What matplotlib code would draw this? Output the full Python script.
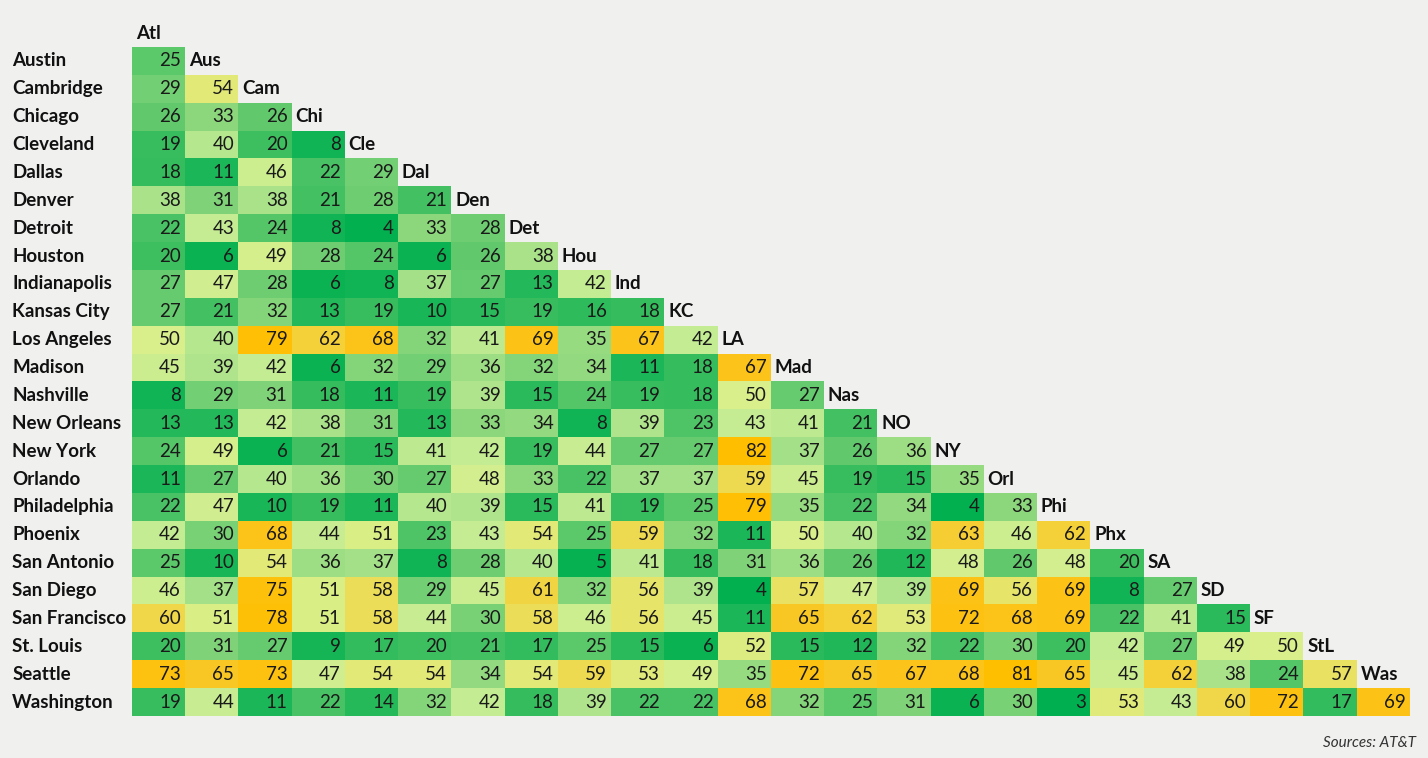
import numpy as np
import matplotlib
matplotlib.use("Agg")
import matplotlib.pyplot as plt
from matplotlib.colors import LinearSegmentedColormap, Normalize

# ciudades (filas) y abreviaturas (columnas)
cities = ["Austin", "Cambridge", "Chicago", "Cleveland", "Dallas", "Denver", "Detroit",
          "Houston", "Indianapolis", "Kansas City", "Los Angeles", "Madison", "Nashville",
          "New Orleans", "New York", "Orlando", "Philadelphia", "Phoenix", "San Antonio",
          "San Diego", "San Francisco", "St. Louis", "Seattle", "Washington"]
abbrevs = ["Atl", "Aus", "Cam", "Chi", "Cle", "Dal", "Den", "Det", "Hou", "Ind", "KC", "LA",
           "Mad", "Nas", "NO", "NY", "Orl", "Phi", "Phx", "SA", "SD", "SF", "StL", "Was"]

# valores por fila (triangulo inferior)
austin = [25]
cambridge = [29, 54]
chicago = [26, 33, 26]
cleveland = [19, 40, 20, 8]
dallas = [18, 11, 46, 22, 29]
denver = [38, 31, 38, 21, 28, 21]
detroit = [22, 43, 24, 8, 4, 33, 28]
houston = [20, 6, 49, 28, 24, 6, 26, 38]
indianapolis = [27, 47, 28, 6, 8, 37, 27, 13, 42]
kansas_city = [27, 21, 32, 13, 19, 10, 15, 19, 16, 18]
los_angeles = [50, 40, 79, 62, 68, 32, 41, 69, 35, 67, 42]
madison = [45, 39, 42, 6, 32, 29, 36, 32, 34, 11, 18, 67]
nashville = [8, 29, 31, 18, 11, 19, 39, 15, 24, 19, 18, 50, 27]
new_orleans = [13, 13, 42, 38, 31, 13, 33, 34, 8, 39, 23, 43, 41, 21]
new_york = [24, 49, 6, 21, 15, 41, 42, 19, 44, 27, 27, 82, 37, 26, 36]
orlando = [11, 27, 40, 36, 30, 27, 48, 33, 22, 37, 37, 59, 45, 19, 15, 35]
philadelphia = [22, 47, 10, 19, 11, 40, 39, 15, 41, 19, 25, 79, 35, 22, 34, 4, 33]
phoenix = [42, 30, 68, 44, 51, 23, 43, 54, 25, 59, 32, 11, 50, 40, 32, 63, 46, 62]
san_antonio = [25, 10, 54, 36, 37, 8, 28, 40, 5, 41, 18, 31, 36, 26, 12, 48, 26, 48, 20]
san_diego = [46, 37, 75, 51, 58, 29, 45, 61, 32, 56, 39, 4, 57, 47, 39, 69, 56, 69, 8, 27]
san_francisco = [60, 51, 78, 51, 58, 44, 30, 58, 46, 56, 45, 11, 65, 62, 53, 72, 68, 69, 22, 41, 15]
st_louis = [20, 31, 27, 9, 17, 20, 21, 17, 25, 15, 6, 52, 15, 12, 32, 22, 30, 20, 42, 27, 49, 50]
seattle = [73, 65, 73, 47, 54, 54, 34, 54, 59, 53, 49, 35, 72, 65, 67, 68, 81, 65, 45, 62, 38, 24, 57]
washington = [19, 44, 11, 22, 14, 32, 42, 18, 39, 22, 22, 68, 32, 25, 31, 6, 30, 3, 53, 43, 60, 72, 17, 69]

filas = [austin, cambridge, chicago, cleveland, dallas, denver, detroit, houston,
         indianapolis, kansas_city, los_angeles, madison, nashville, new_orleans, new_york,
         orlando, philadelphia, phoenix, san_antonio, san_diego, san_francisco, st_louis,
         seattle, washington]

n = len(cities)
matriz = np.full((n, n), np.nan)
for i, fila in enumerate(filas):
    matriz[i, :len(fila)] = fila

# escala de color verde -> amarillo -> naranja
vmin, vmax = np.nanmin(matriz), np.nanmax(matriz)
anclas = [(3, "#00b050"), (20, "#3dbf60"), (32, "#86d57a"), (42, "#c3ec94"),
          (50, "#d8f08c"), (55, "#e6e872"), (60, "#f0d84a"), (66, "#fcc41c"), (82, "#ffbf00")]
cmap = LinearSegmentedColormap.from_list(
    "verde_naranja", [((v - vmin) / (vmax - vmin), c) for v, c in anclas])

fondo = "#f0f0ef"
fig = plt.figure(figsize=(14.28, 7.58), dpi=100, facecolor=fondo)
ax = fig.add_axes([132 / 1428, 1 - 716 / 758, 1278 / 1428, 669 / 758])
ax.set_facecolor(fondo)
ax.imshow(np.ma.masked_invalid(matriz), cmap=cmap, norm=Normalize(vmin, vmax),
          aspect="auto", interpolation="nearest")
ax.set_xlim(-0.5, n - 0.5)
ax.set_ylim(n - 0.5, -0.5)
ax.axis("off")

fuente = "Lato"
tam = 13.5
for i, fila in enumerate(filas):
    ax.text(-2.75, i, cities[i], ha="left", va="center", fontsize=tam,
            fontweight="bold", family=fuente, color="#111111", clip_on=False)
    for j, v in enumerate(fila):
        ax.text(j + 0.42, i, str(v), ha="right", va="center", fontsize=tam,
                family=fuente, color="#1a1a1a")

# encabezados en diagonal
for j, ab in enumerate(abbrevs):
    ax.text(j - 0.43, j - 1, ab, ha="left", va="center", fontsize=tam,
            fontweight="bold", family=fuente, color="#111111", clip_on=False)

fig.text(1416 / 1428, 1 - 743 / 758, "Sources: AT&T", ha="right", va="center",
         fontsize=11, style="italic", family=fuente, color="#333333")

plt.savefig("out.png", dpi=100, facecolor=fondo)
